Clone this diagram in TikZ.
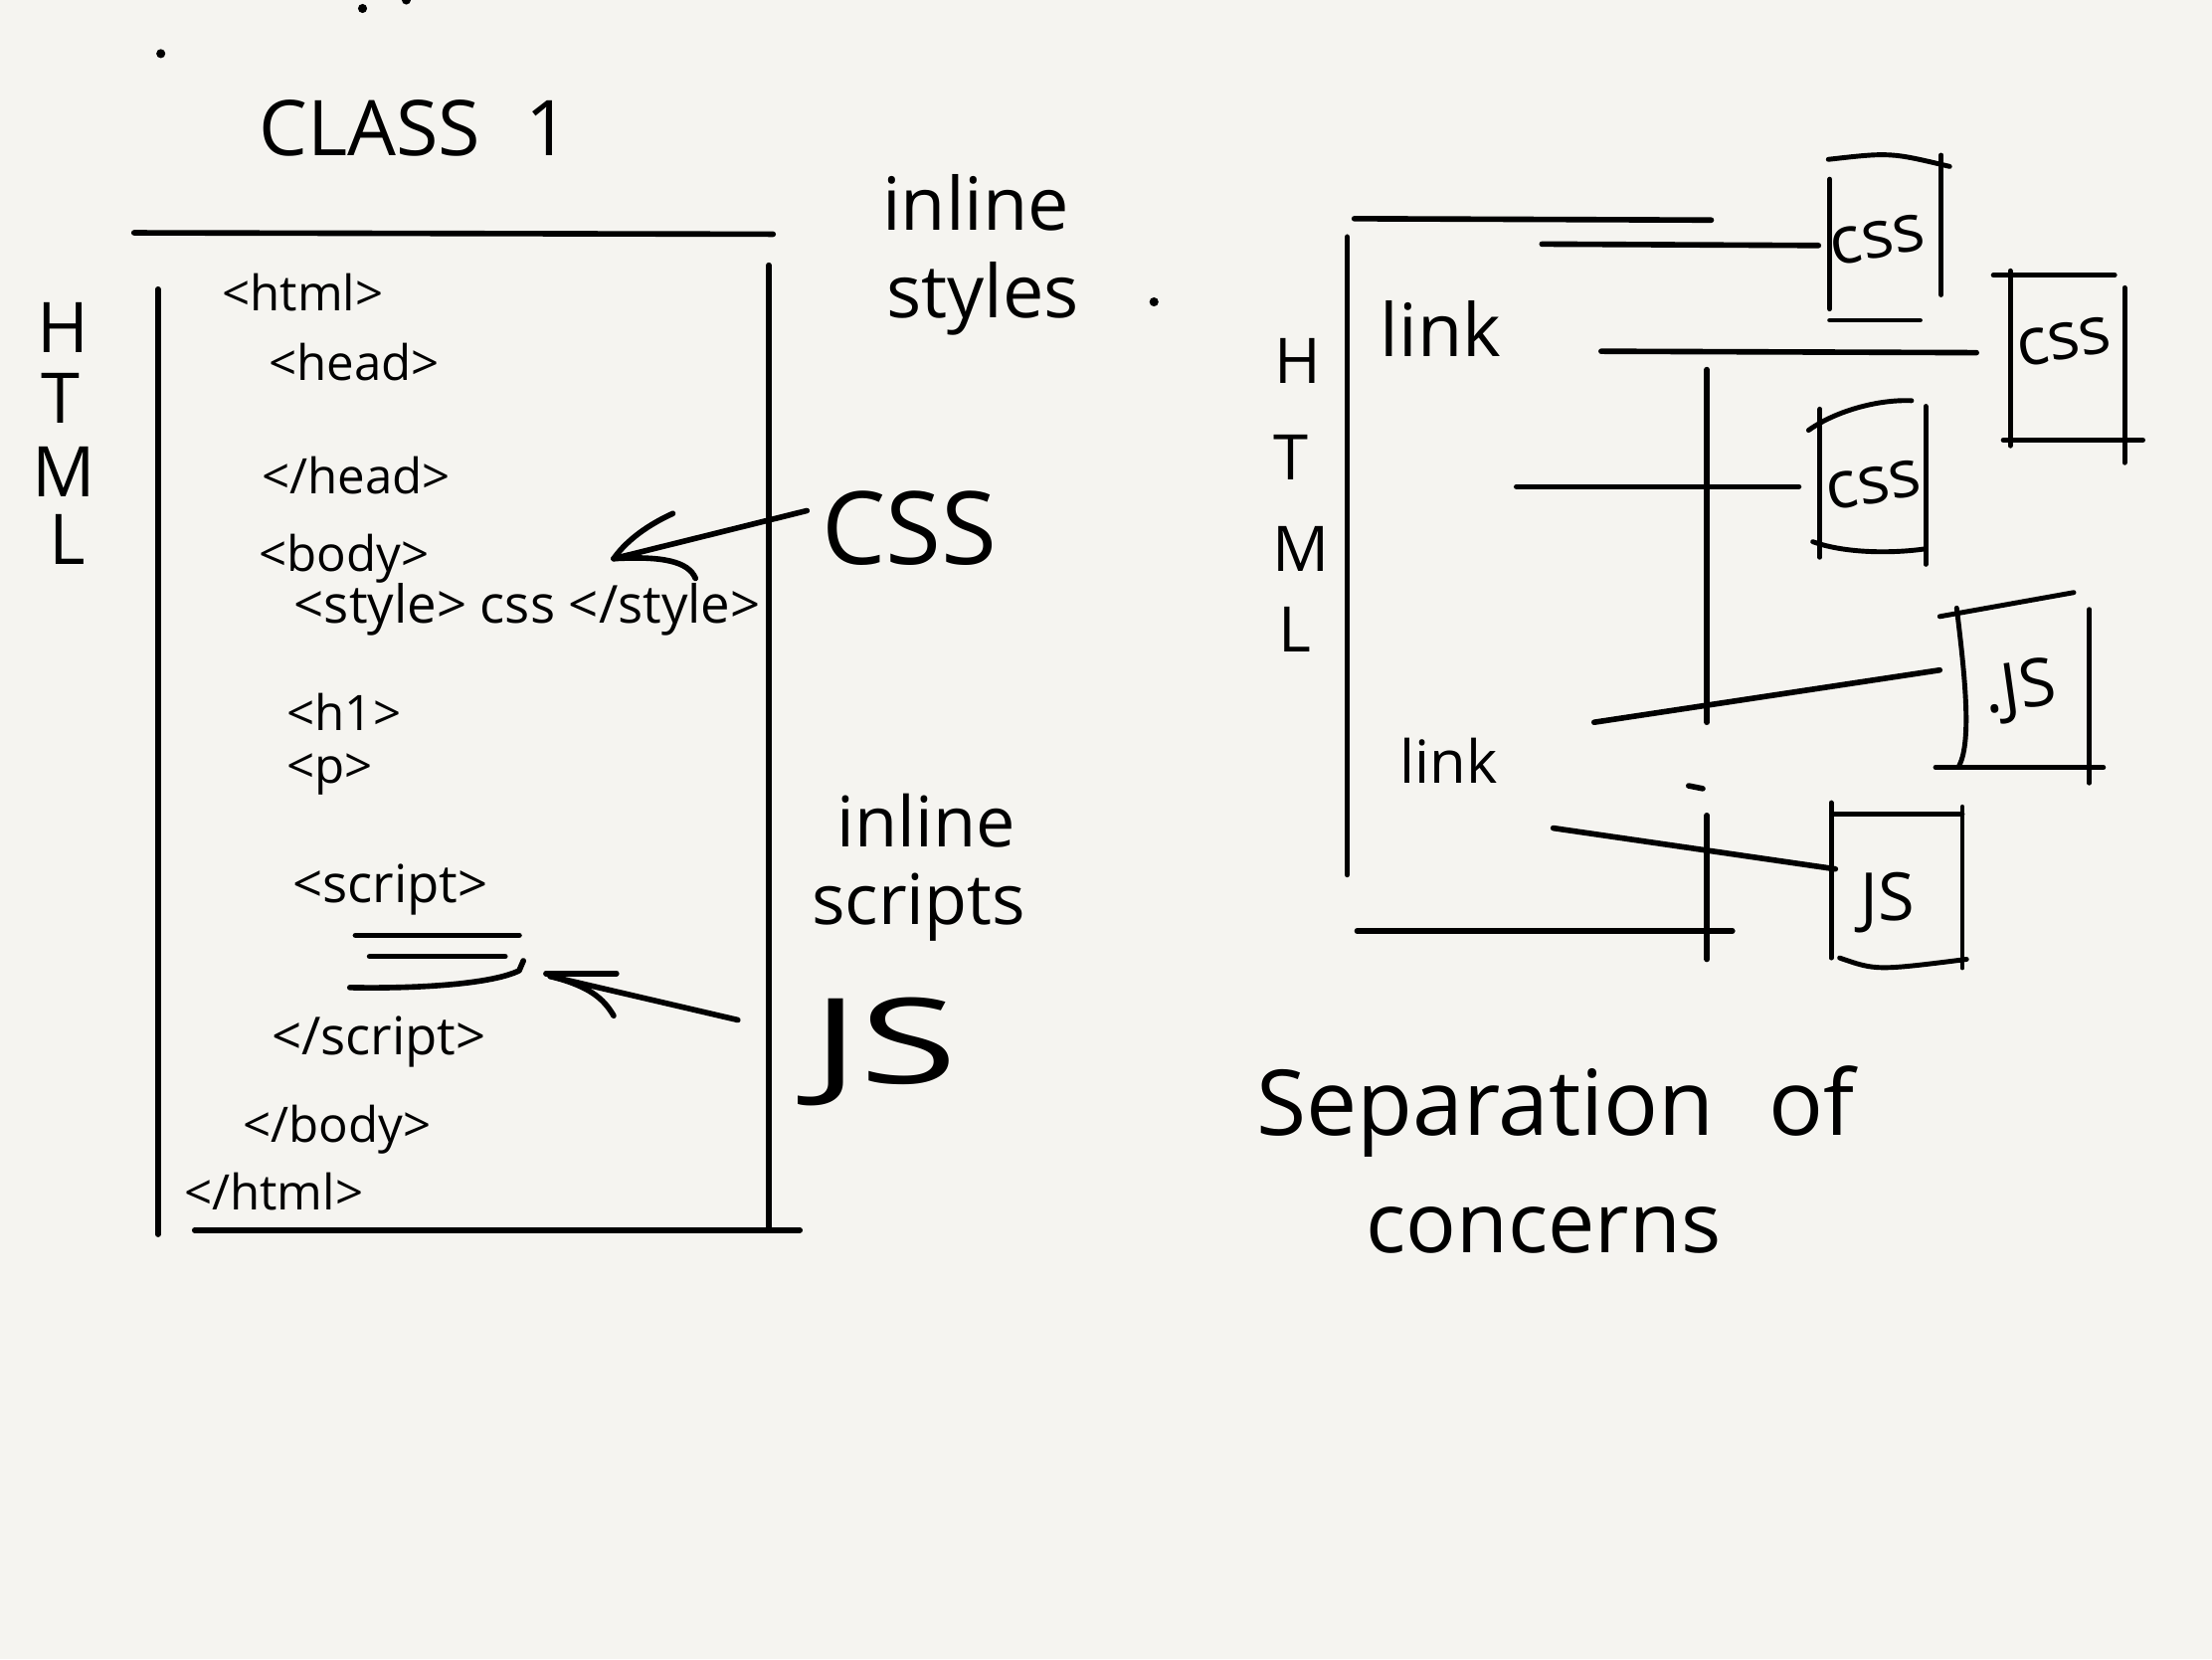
\documentclass[tikz,border=0pt]{standalone}
\usepackage{fontspec}
\setmainfont{Open Sans}
\definecolor{paper}{HTML}{F5F4F0}
\begin{document}
\begin{tikzpicture}[x=0.014184cm,y=-0.014184cm,line cap=round,line join=round,
  pen/.style={draw=black,line width=1.6pt},
  boxpen/.style={draw=black,line width=1.4pt},
  codetext/.style={anchor=base west,inner sep=0pt,font=\fontsize{14}{16}\selectfont},
  bigletter/.style={anchor=base,inner sep=0pt,font=\fontsize{20}{22}\selectfont},
  smallletter/.style={anchor=base,inner sep=0pt,font=\fontsize{18}{20}\selectfont},
  label/.style={anchor=base west,inner sep=0pt,font=\fontsize{21}{23}\selectfont},
  boxtext/.style={inner sep=0pt,font=\fontsize{19}{21}\selectfont}]
\fill[paper] (0,0) rectangle (1568,1176);
\useasboundingbox (0,0) rectangle (1568,1176);

% stray dots
\fill (257,6) circle[radius=1.3pt];
\fill (288,0) circle[radius=1.3pt];
\fill (114,38) circle[radius=1.3pt];
\fill (818,214) circle[radius=1.3pt];

% title
\node[anchor=base west,inner sep=0pt,font=\fontsize{22}{24}\selectfont] (title) at (183,110) {CLASS};
\node[anchor=base,inner sep=0pt,font=\fontsize{22}{24}\selectfont] (one) at (388,110) {1};

% left frame
\draw[pen] (95,165) -- (548,166);
\draw[pen] (112,205) -- (112,875);
\draw[pen] (545,188) -- (545,870);
\draw[pen] (138,872) -- (567,872);

% HTML letters left
\node[bigletter] (lh) at (45,250) {H};
\node[bigletter] (lt) at (43,300) {T};
\node[bigletter] (lm) at (45,352) {M};
\node[bigletter] (ll) at (48,400) {L};

% code
\node[codetext] (c1) at (157,220) {<html>};
\node[codetext] (c2) at (190,270) {<head>};
\node[codetext] (c3) at (185,350) {</head>};
\node[codetext] (c4) at (183,405) {<body>};
\node[codetext,font=\fontsize{15}{17}\selectfont] (c5) at (208,442) {<style> css </style>};
\node[codetext] (c6) at (203,518) {<h1>};
\node[codetext] (c7) at (203,555) {<p>};
\node[codetext,font=\fontsize{15}{17}\selectfont] (c8) at (207,640) {<script>};
\node[codetext,font=\fontsize{15}{17}\selectfont] (c9) at (192,748) {</script>};
\node[codetext] (c10) at (172,810) {</body>};
\node[codetext] (c11) at (130,858) {</html>};

% script body lines
\draw[pen] (252,663) -- (368,663);
\draw[pen] (262,678) -- (358,678);
\draw[pen] (248,700) .. controls (300,701) and (350,697) .. (368,688) -- (371,681);

% right labels (left part)
\node[label] (inl1) at (625,163) {inline};
\node[label] (sty) at (628,225) {styles};
\node[anchor=base west,inner sep=0pt,font=\fontsize{29}{31}\selectfont] (bigcss) at (582,400) {CSS};
\node[anchor=base west,inner sep=0pt,font=\fontsize{34}{36}\selectfont] (bigjs) at (575,768) {\scalebox{1.5}[1]{JS}};
\node[label,font=\fontsize{20}{22}\selectfont] (inl2) at (593,600) {inline};
\node[label,font=\fontsize{20}{22}\selectfont] (scr) at (575,655) {scripts};

% CSS arrow
\coordinate (csstail) at (572,362);
\coordinate (csstip) at (435,396);
\draw[pen] (csstail) -- (csstip);
\draw[pen] (477,364) .. controls (455,374) and (442,386) .. (csstip);
\draw[pen] (csstip) .. controls (470,394) and (488,398) .. (493,410);

% JS arrow
\coordinate (jstail) at (523,723);
\coordinate (jstip) at (390,692);
\draw[pen] (jstail) -- (jstip);
\draw[pen] (387,690) -- (437,690);
\draw[pen] (jstip) .. controls (418,699) and (428,708) .. (435,720);

% ---------- right diagram ----------
\node[smallletter] (rh) at (920,272) {H};
\node[smallletter] (rt) at (915,340) {T};
\node[smallletter] (rm) at (922,405) {M};
\node[smallletter] (rl) at (918,462) {L};

\draw[pen] (955,168) -- (955,620);
\node[label] (link1) at (978,253) {link};
\node[label,font=\fontsize{17}{19}\selectfont] (link2) at (992,555) {link};

\draw[pen] (960,155) -- (1213,156);
\draw[pen] (1093,173) -- (1289,174);
\draw[pen] (1135,249) -- (1401,250);
\draw[pen] (1075,345) -- (1275,345);
\draw[pen] (1210,262) -- (1210,512);
\draw[pen] (1210,578) -- (1210,680);
\draw[pen] (1197,557) -- (1207,559);
\draw[pen] (1130,512) -- (1375,475);
\draw[pen] (1101,587) -- (1301,616);
\draw[pen] (962,660) -- (1228,660);

% box 1
\draw[boxpen] (1296,113) .. controls (1340,108) .. (1382,118);
\draw[boxpen] (1297,127) -- (1297,219);
\draw[boxpen] (1376,110) -- (1376,209);
\draw[boxpen] (1297,227) -- (1361,227);
\node[boxtext,rotate=10] (css1) at (1331,170) {css};

% box 2
\draw[boxpen] (1413,195) -- (1499,195);
\draw[boxpen] (1425,192) -- (1425,316);
\draw[boxpen] (1506,204) -- (1506,328);
\draw[boxpen] (1420,312) -- (1519,312);
\node[boxtext,rotate=10] (css2) at (1463,242) {css};

% box 3
\draw[boxpen] (1282,305) .. controls (1300,292) and (1330,283) .. (1355,284);
\draw[boxpen] (1290,290) -- (1290,395);
\draw[boxpen] (1365,288) -- (1365,400);
\draw[boxpen] (1285,384) .. controls (1310,393) and (1345,392) .. (1365,389);
\node[boxtext,rotate=10] (css3) at (1328,344) {css};

% box 4
\draw[boxpen] (1375,437) -- (1470,420);
\draw[boxpen] (1387,431) .. controls (1393,480) and (1398,528) .. (1388,544);
\draw[boxpen] (1481,432) -- (1481,555);
\draw[boxpen] (1372,544) -- (1491,544);
\node[boxtext,rotate=8] (js1) at (1432,490) {.JS};

% box 5
\draw[boxpen] (1298,569) -- (1298,679);
\draw[boxpen] (1300,577) -- (1391,577);
\draw[boxpen] (1391,572) -- (1391,686);
\draw[boxpen] (1304,679) .. controls (1330,688) .. (1394,680);
\node[boxtext] (js2) at (1338,640) {JS};

% caption
\node[anchor=base west,inner sep=0pt,font=\fontsize{26}{28}\selectfont] (sep) at (890,805) {Separation\hspace{0.6em}of};
\node[anchor=base west,inner sep=0pt,font=\fontsize{24}{26}\selectfont] (conc) at (968,888) {concerns};
\end{tikzpicture}
\end{document}
